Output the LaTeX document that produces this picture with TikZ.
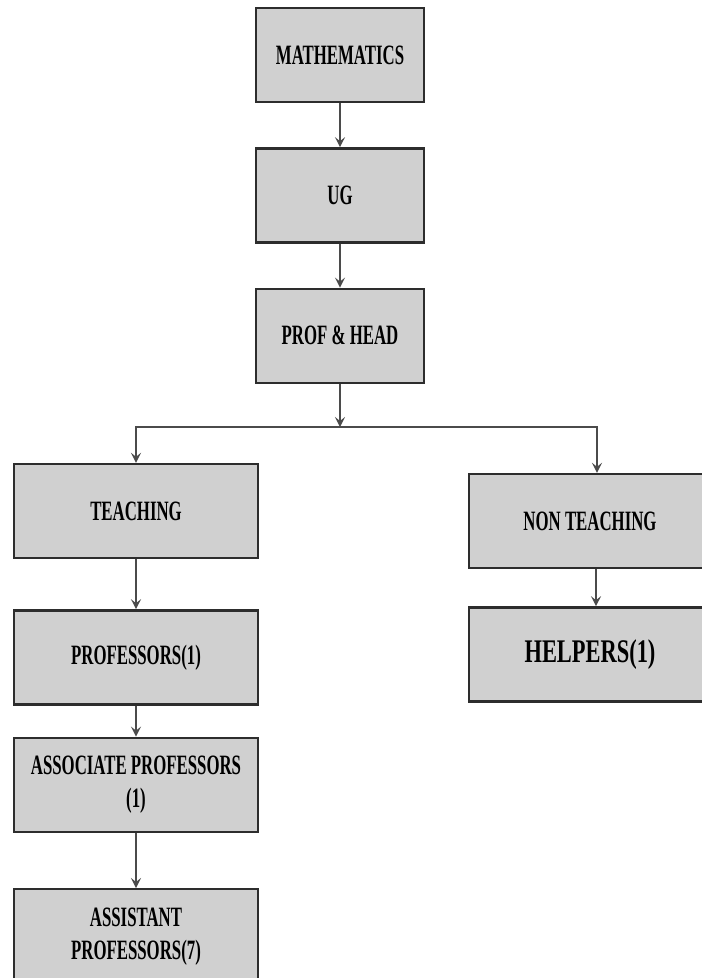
\documentclass[tikz,border=0pt]{standalone}
\usepackage{fontspec}
\setmainfont{Liberation Serif}[FakeStretch=0.6]
\newfontfamily\bigfont{Liberation Serif}[FakeStretch=0.68]
\usetikzlibrary{positioning,arrows.meta}
\definecolor{boxgray}{RGB}{208,208,208}
\definecolor{edgegray}{RGB}{45,45,45}
\definecolor{arrowgray}{RGB}{75,75,75}
\tikzset{
  unit/.style={shape=rectangle,draw=edgegray,line width=2.4pt,fill=boxgray,minimum height=94pt,inner sep=2pt,align=center,font=\bfseries\fontsize{28}{33}\selectfont},
  link/.style={draw=arrowgray,line width=1.8pt,-{Stealth[length=10pt,width=10pt,inset=4pt]}}
}

\begin{document}
\begin{tikzpicture}[x=1pt,y=-1pt]
            \useasboundingbox (0,0) rectangle (702,978);
            \node[unit,minimum width=168pt] (math) at (340,55) {MATHEMATICS};
            \node[unit,minimum width=168pt] (ug) [below=44pt of math] {UG};
            \node[unit,minimum width=168pt] (head) [below=44pt of ug] {PROF \& HEAD};
            \coordinate (split) at (340,427);

            \node[unit,minimum width=244pt] (teach) at (136,511) {TEACHING};
            \node[unit,minimum width=244pt] (prof) [below=50pt of teach] {PROFESSORS(1)};
            \node[unit,minimum width=244pt] (assoc) [below=31pt of prof] {ASSOCIATE PROFESSORS\\(1)};
            \node[unit,minimum width=244pt] (assist) [below=55pt of assoc] {ASSISTANT\\PROFESSORS(7)};

            \node[unit,minimum width=242pt] (nonteach) at (590,521) {NON TEACHING};
            \node[unit,minimum width=242pt,font=\bigfont\bfseries\fontsize{33}{36}\selectfont] (helpers) [below=37pt of nonteach] {HELPERS(1)};

            \path [link] (math) -- (ug);
            \path [link] (ug) -- (head);
            \path [link] (head) -- (split);
            \path [link] (split) -| (teach.north);
            \path [link] (split) -| ([xshift=7pt]nonteach.north);
            \path [link] (teach) -- (prof);
            \path [link] (prof) -- (assoc);
            \path [link] (assoc) -- (assist);
            \path [link] ([xshift=6pt]nonteach.south) -- ([xshift=6pt]helpers.north);
        \end{tikzpicture}
\end{document}
